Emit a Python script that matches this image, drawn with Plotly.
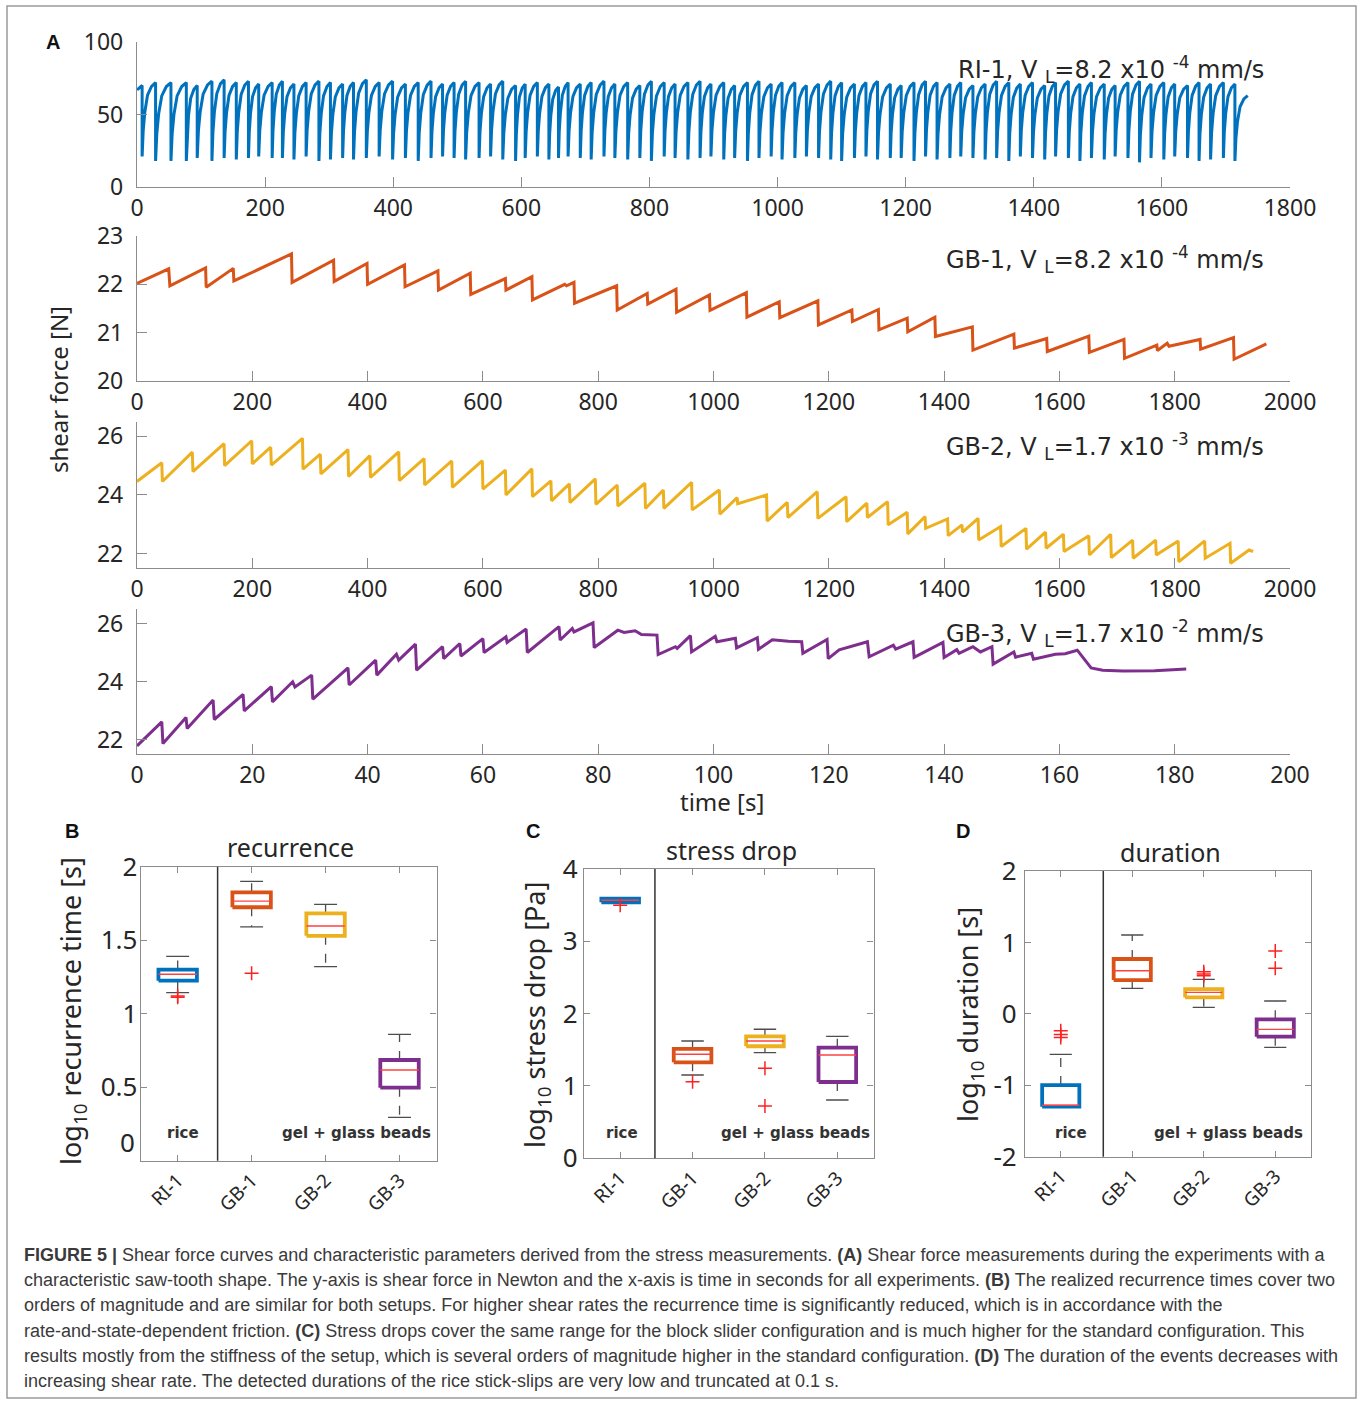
import plotly.graph_objects as go

# ---------------- data: panel A (shear force curves) ----------------
# RI-1: times of each slip (drop), force just before and just after it
RI1_START_T, RI1_START_F = 0, 67
RI1_DROP_T = [8, 29, 53, 77, 94, 117, 136, 155, 174, 190, 211, 227, 245, 264, 284, 302, 321, 338,
              358, 378, 399, 419, 439, 459, 477, 495, 513, 534, 552, 571, 591, 606, 625, 643, 658, 673,
              692, 709, 729, 746, 766, 785, 803, 823, 840, 860, 879, 896, 916, 933, 953, 971, 990, 1007,
              1027, 1045, 1064, 1083, 1100, 1120, 1138, 1156, 1176, 1193, 1213, 1231, 1249, 1269, 1286,
              1305, 1324, 1342, 1361, 1379, 1398, 1417, 1434, 1454, 1472, 1490, 1510, 1527, 1547, 1565,
              1583, 1603, 1620, 1640, 1658, 1676, 1696, 1714]
RI1_PEAK = [70, 72, 72, 72, 70, 73, 74, 72, 73, 71, 72, 73, 71, 72, 73, 72, 71, 72, 74, 72, 73, 71, 72, 73,
            71, 72, 73, 72, 71, 73, 70, 71, 72, 71, 69, 72,
            71, 72, 73, 71, 72, 70, 73, 72, 71, 72, 73, 71, 72, 70, 72, 73, 71, 72, 72, 70, 71, 73, 72, 71,
            72, 73, 71, 70, 72, 73, 72, 71, 72, 70, 71, 73, 72, 71, 72, 70, 72, 73, 71, 72, 71, 70, 72, 73,
            71, 72, 71, 70, 72, 71, 72, 71]
RI1_TROUGH = [21, 18, 18, 18, 20, 18, 20, 19, 20, 21, 20, 20, 19, 21, 18, 19, 20, 19, 20, 21, 19, 20, 18, 20,
              21, 20, 19, 20, 21, 19, 18, 20, 21, 19, 20, 21,
              20, 19, 21, 20, 19, 20, 18, 21, 20, 19, 20, 21, 19, 20, 18, 20, 21, 19, 20, 21, 20, 19, 18, 20,
              21, 19, 20, 20, 18, 21, 19, 20, 21, 20, 19, 20, 18, 21, 20, 19, 21, 20, 18, 20, 19, 21, 20, 17,
              20, 19, 21, 20, 18, 19, 20, 18]
RI1_END_T, RI1_END_F = 1734, 63
# shape of one loading cycle: (fraction of cycle time, fraction of force rise)
RI1_RISE_PROFILE = [(0.08, 0.35), (0.2, 0.6), (0.4, 0.83), (0.7, 0.95)]

GB1_T = [0, 55, 57, 119, 120, 167, 168, 230, 268, 269, 341, 342, 399, 400, 464, 465, 522, 523, 578, 579,
         639, 640, 685, 686, 742, 745, 758, 759, 832, 833, 885, 886, 935, 936, 993, 994, 1057, 1058, 1114, 1115,
         1181, 1182, 1240, 1241, 1286, 1287, 1336, 1337, 1384, 1385, 1449, 1450, 1521, 1522, 1578, 1579,
         1651, 1652, 1712, 1713, 1769, 1770, 1787, 1790, 1844, 1845, 1902, 1903, 1959]
GB1_F = [22.02, 22.32, 21.97, 22.34, 21.94, 22.33, 22.07, 22.42, 22.63, 22.04, 22.50, 22.06, 22.43, 22.00,
         22.40, 21.95, 22.28, 21.88, 22.23, 21.79, 22.12, 21.88, 22.16, 21.68, 22.00, 21.97, 22.04, 21.61,
         21.97, 21.47, 21.81, 21.59, 21.90, 21.42, 21.78, 21.46, 21.83, 21.32, 21.64, 21.31, 21.66, 21.16,
         21.47, 21.23, 21.48, 21.06, 21.30, 21.02, 21.32, 20.92, 21.12, 20.64, 20.97, 20.68, 20.88, 20.61,
         20.93, 20.59, 20.86, 20.47, 20.74, 20.63, 20.78, 20.72, 20.86, 20.66, 20.90, 20.45, 20.77]

GB2_T = [0, 43, 44, 96, 97, 151, 152, 199, 200, 232, 233, 287, 288, 318, 319, 366, 367, 404, 405, 454,
         455, 498, 499, 546, 547, 599, 600, 639, 640, 685, 686, 718, 719, 750, 751, 795, 796, 833, 834, 881,
         882, 913, 914, 962, 963, 1010, 1011, 1041, 1042, 1092, 1093, 1128, 1129, 1180, 1181, 1230, 1231,
         1266, 1267, 1302, 1303, 1336, 1337, 1367, 1368, 1406, 1407, 1431, 1432, 1459, 1460, 1498, 1499,
         1542, 1543, 1576, 1577, 1607, 1608, 1651, 1652, 1689, 1690, 1727, 1728, 1767, 1768, 1806, 1807,
         1852, 1853, 1896, 1897, 1929, 1936]
GB2_F = [24.46, 25.10, 24.46, 25.46, 24.80, 25.75, 25.00, 25.85, 25.06, 25.63, 25.02, 25.93, 24.88, 25.39,
         24.72, 25.55, 24.63, 25.34, 24.60, 25.47, 24.49, 25.24, 24.34, 25.16, 24.26, 25.17, 24.20, 24.85,
         24.00, 24.89, 23.94, 24.48, 23.80, 24.38, 23.74, 24.55, 23.68, 24.34, 23.62, 24.40, 23.54, 24.17,
         23.54, 24.43, 23.49, 24.17, 23.34, 23.91, 23.70, 24.00, 23.11, 23.75, 23.23, 24.11, 23.20, 23.94,
         23.09, 23.72, 23.23, 23.77, 22.98, 23.41, 22.67, 23.26, 22.86, 23.18, 22.61, 22.98, 22.73, 23.20,
         22.46, 22.92, 22.24, 22.86, 22.15, 22.73, 22.18, 22.66, 22.07, 22.61, 21.95, 22.66, 21.86, 22.46,
         21.84, 22.46, 21.95, 22.43, 21.72, 22.43, 21.84, 22.35, 21.67, 22.12, 22.07]

GB3_T = [0, 4.3, 4.5, 8.5, 8.7, 13.2, 13.4, 18.4, 18.6, 23.3, 23.5, 27.0, 27.4, 30.3, 30.5, 36.6, 36.8,
         41.4, 41.6, 45.0, 45.4, 48.3, 48.5, 53.0, 53.2, 56.0, 56.2, 60.0, 60.2, 64.0, 64.2, 67.5, 67.7,
         73.2, 73.4, 75.5, 75.8, 79.1, 79.3, 83.4, 84.5, 86.4, 87.5, 90.2, 90.4, 93.4, 93.7, 96.0, 96.2,
         100.3, 100.6, 103.8, 104.0, 107.6, 107.8, 110.2, 113.0, 115.3, 115.5, 119.7, 119.9, 121.8, 126.7,
         127.0, 131.2, 131.6, 134.6, 134.8, 139.8, 140.0, 142.2, 142.6, 145.0, 146.3, 148.3, 148.5, 152.1,
         152.4, 155.2, 155.5, 159.3, 161.0, 163.1, 164.0, 165.5, 167.5, 171.0, 176.5, 182.0]
GB3_F = [21.79, 22.62, 21.87, 22.77, 22.39, 23.37, 22.70, 23.57, 23.00, 23.83, 23.31, 24.00, 23.82, 24.23,
         23.40, 24.48, 23.89, 24.75, 24.23, 24.95, 24.75, 25.30, 24.40, 25.21, 24.80, 25.32, 24.89, 25.49,
         25.01, 25.55, 25.36, 25.82, 25.01, 25.90, 25.44, 25.84, 25.72, 26.03, 25.18, 25.78, 25.70, 25.76,
         25.63, 25.61, 24.94, 25.21, 25.15, 25.59, 25.03, 25.57, 25.38, 25.50, 25.17, 25.52, 25.12, 25.45,
         25.40, 25.38, 24.98, 25.46, 24.80, 25.10, 25.38, 24.86, 25.26, 25.13, 25.38, 24.84, 25.36, 24.84,
         25.11, 24.98, 25.21, 25.03, 25.21, 24.61, 25.03, 24.85, 24.98, 24.78, 24.95, 24.97, 25.09, 24.85,
         24.48, 24.40, 24.37, 24.38, 24.44]

A_LABELS = ["RI-1, V <sub>L</sub>=8.2 x10 <sup>-4</sup> mm/s",
            "GB-1, V <sub>L</sub>=8.2 x10 <sup>-4</sup> mm/s",
            "GB-2, V <sub>L</sub>=1.7 x10 <sup>-3</sup> mm/s",
            "GB-3, V <sub>L</sub>=1.7 x10 <sup>-2</sup> mm/s"]

# ---------------- data: panels B-D (box plots) ----------------
CATS = ["RI-1", "GB-1", "GB-2", "GB-3"]
CAT_POS = [1, 2, 3, 4]

REC_LO = [1.143, 1.59, 1.32, 0.295]
REC_Q1 = [1.225, 1.724, 1.53, 0.497]
REC_MED = [1.268, 1.766, 1.597, 0.617]
REC_Q3 = [1.30, 1.826, 1.683, 0.685]
REC_HI = [1.39, 1.90, 1.744, 0.86]
REC_OUT_X = [1, 1, 2]
REC_OUT_Y = [1.112, 1.120, 1.275]

SD_LO = [3.525, 1.152, 1.46, 0.806]
SD_Q1 = [3.54, 1.327, 1.549, 1.055]
SD_MED = [3.568, 1.438, 1.622, 1.429]
SD_Q3 = [3.59, 1.512, 1.687, 1.53]
SD_HI = [3.60, 1.622, 1.784, 1.687]
SD_OUT_X = [1, 2, 3, 3]
SD_OUT_Y = [3.50, 1.06, 1.245, 0.723]

DUR_LO = [-1.30, 0.357, 0.09, -0.47]
DUR_Q1 = [-1.30, 0.473, 0.23, -0.32]
DUR_MED = [-1.28, 0.604, 0.30, -0.217]
DUR_Q3 = [-0.997, 0.768, 0.347, -0.077]
DUR_HI = [-0.567, 1.104, 0.483, 0.18]
DUR_OUT_X = [1, 1, 1, 3, 3, 3, 4, 4]
DUR_OUT_Y = [-0.237, -0.29, -0.33, 0.59, 0.557, 0.534, 0.88, 0.637]

CAPTION = [
    "<b>FIGURE 5 |</b> Shear force curves and characteristic parameters derived from the stress measurements. <b>(A)</b> Shear force measurements during the experiments with a",
    "characteristic saw-tooth shape. The y-axis is shear force in Newton and the x-axis is time in seconds for all experiments. <b>(B)</b> The realized recurrence times cover two",
    "orders of magnitude and are similar for both setups. For higher shear rates the recurrence time is significantly reduced, which is in accordance with the",
    "rate-and-state-dependent friction. <b>(C)</b> Stress drops cover the same range for the block slider configuration and is much higher for the standard configuration. This",
    "results mostly from the stiffness of the setup, which is several orders of magnitude higher in the standard configuration. <b>(D)</b> The duration of the events decreases with",
    "increasing shear rate. The detected durations of the rice stick-slips are very low and truncated at 0.1 s.",
]

# ---------------- styling ----------------
COLORS = ["#0072BD", "#D95319", "#EDB120", "#7E2F8E"]
W, H = 1358, 1401
FONT = "Noto Sans"
AX_COL = "#8c8c8c"
TXT = "#262626"


def xd(a, b):
    return [a / W, b / W]


def yd(top, bot):
    return [1 - bot / H, 1 - top / H]


def X(p):
    return p / W


def Y(p):
    return 1 - p / H


fig = go.Figure()

# ---- RI-1 curve ----
xs, ys = [RI1_START_T], [RI1_START_F]
prev = None
for t, pk, tr in zip(RI1_DROP_T + [RI1_END_T], RI1_PEAK + [RI1_END_F], RI1_TROUGH + [None]):
    if prev is not None:
        pt, pf = prev
        for fr, fa in RI1_RISE_PROFILE:
            xs.append(pt + fr * (t - pt))
            ys.append(pf + fa * (pk - pf))
    xs.append(t)
    ys.append(pk)
    if tr is not None:
        xs.append(t)
        ys.append(tr)
        prev = (t, tr)
fig.add_trace(go.Scatter(x=xs, y=ys, mode="lines", line=dict(color=COLORS[0], width=3),
                         xaxis="x", yaxis="y", showlegend=False))
fig.add_trace(go.Scatter(x=GB1_T, y=GB1_F, mode="lines", line=dict(color=COLORS[1], width=3),
                         xaxis="x2", yaxis="y2", showlegend=False))
fig.add_trace(go.Scatter(x=GB2_T, y=GB2_F, mode="lines", line=dict(color=COLORS[2], width=3),
                         xaxis="x3", yaxis="y3", showlegend=False))
fig.add_trace(go.Scatter(x=GB3_T, y=GB3_F, mode="lines", line=dict(color=COLORS[3], width=3),
                         xaxis="x4", yaxis="y4", showlegend=False))

axA = dict(showgrid=False, zeroline=False, showline=True, linecolor=AX_COL, linewidth=1.3,
           ticks="inside", ticklen=10, tickcolor=AX_COL, tickwidth=1.2, automargin=False,
           tickfont=dict(family=FONT, size=23, color=TXT))
A_X = [(137, 1290)] * 4
A_Y = [(42, 187), (236, 381), (421.7, 568.2), (609.3, 754.3)]
A_XR = [[0, 1800], [0, 2000], [0, 2000], [0, 200]]
A_DT = [200, 200, 200, 20]
A_YR = [[0, 100], [20, 23], [21.5, 26.5], [21.5, 26.5]]
A_YT = [[0, 50, 100], [20, 21, 22, 23], [22, 24, 26], [22, 24, 26]]
layout_axes = {}
for i in range(4):
    sfx = "" if i == 0 else str(i + 1)
    layout_axes["xaxis" + sfx] = dict(axA, domain=xd(*A_X[i]), range=A_XR[i], dtick=A_DT[i],
                                      anchor="y" + sfx, ticklabelstandoff=0)
    layout_axes["yaxis" + sfx] = dict(axA, domain=yd(*A_Y[i]), range=A_YR[i], tickvals=A_YT[i],
                                      anchor="x" + sfx, ticklabelstandoff=8)

# ---- box panels ----
BOX_W, CAP_W = 0.26, 0.155
panels = [
    (5, (140.7, 436.5), (866.7, 1160.7), [0, 2], [0.5, 1, 1.5, 2], 1.54, -3,
     (REC_LO, REC_Q1, REC_MED, REC_Q3, REC_HI, REC_OUT_X, REC_OUT_Y)),
    (6, (584, 873.5), (869, 1158.3), [0, 4], [0, 1, 2, 3, 4], 1.48, 0,
     (SD_LO, SD_Q1, SD_MED, SD_Q3, SD_HI, SD_OUT_X, SD_OUT_Y)),
    (7, (1025, 1311), (871, 1156.7), [-2, 2], [-2, -1, 0, 1, 2], 1.595, 2,
     (DUR_LO, DUR_Q1, DUR_MED, DUR_Q3, DUR_HI, DUR_OUT_X, DUR_OUT_Y)),
]
shapes = []
for n, xdom, ydom, yr, ytv, divx, stand, (lo, q1, med, q3, hi, ox, oy) in panels:
    xa, ya = "x%d" % n, "y%d" % n
    for i, c in enumerate(CAT_POS):
        # whiskers
        for a, b in ((q3[i], hi[i]), (q1[i], lo[i])):
            fig.add_trace(go.Scatter(x=[c, c], y=[a, b], mode="lines",
                                     line=dict(color="#4d4d4d", width=1.3, dash="dash"),
                                     xaxis=xa, yaxis=ya, showlegend=False, hoverinfo="skip"))
        for v in (hi[i], lo[i]):
            fig.add_trace(go.Scatter(x=[c - CAP_W, c + CAP_W], y=[v, v], mode="lines",
                                     line=dict(color="#4d4d4d", width=1.3),
                                     xaxis=xa, yaxis=ya, showlegend=False, hoverinfo="skip"))
        # box
        fig.add_trace(go.Scatter(x=[c - BOX_W, c + BOX_W, c + BOX_W, c - BOX_W, c - BOX_W],
                                 y=[q1[i], q1[i], q3[i], q3[i], q1[i]], mode="lines",
                                 line=dict(color=COLORS[i], width=3.8),
                                 xaxis=xa, yaxis=ya, showlegend=False))
        # median
        fig.add_trace(go.Scatter(x=[c - BOX_W, c + BOX_W], y=[med[i], med[i]], mode="lines",
                                 line=dict(color="#ff4040", width=1.4),
                                 xaxis=xa, yaxis=ya, showlegend=False))
    fig.add_trace(go.Scatter(x=ox, y=oy, mode="markers",
                             marker=dict(symbol="cross-thin", size=10, line=dict(color="#ff2020", width=1.5)),
                             xaxis=xa, yaxis=ya, showlegend=False))
    axB = dict(showgrid=False, zeroline=False, showline=True, linecolor=AX_COL, linewidth=1.3,
               mirror="ticks", ticks="inside", ticklen=6, tickcolor=AX_COL, tickwidth=1.2,
               automargin=False)
    layout_axes["xaxis%d" % n] = dict(axB, domain=xd(*xdom), range=[0.5, 4.5], tickvals=CAT_POS,
                                      ticktext=CATS, tickangle=-45, anchor=ya,
                                      tickfont=dict(family=FONT, size=19, color=TXT))
    layout_axes["yaxis%d" % n] = dict(axB, domain=yd(*ydom), range=yr, tickvals=ytv,
                                      ticktext=[("%g" % v) for v in ytv], anchor=xa,
                                      ticklabelstandoff=stand,
                                      tickfont=dict(family=FONT, size=26, color=TXT))
    shapes.append(dict(type="line", xref=xa, yref=ya + " domain", x0=divx, x1=divx, y0=0, y1=1,
                       line=dict(color="#333333", width=1.5)))

# frame around the whole figure
shapes.append(dict(type="rect", xref="paper", yref="paper", x0=X(7), x1=X(1356), y0=Y(1398), y1=Y(6),
                   line=dict(color="#9a9a9a", width=1.5)))

ann = []


def text(x, y, s, size, bold=False, xanchor="center", angle=0, family=FONT, color=TXT):
    ann.append(dict(x=X(x), y=Y(y), xref="paper", yref="paper", text=("<b>%s</b>" % s) if bold else s,
                    showarrow=False, xanchor=xanchor, yanchor="middle", textangle=angle,
                    font=dict(family=family, size=size, color=color)))


for lab, yy in zip(A_LABELS, [69, 259, 446, 633]):
    text(1266, yy, lab, 24, xanchor="right", family="DejaVu Sans")
text(53, 42, "A", 20, bold=True, family="Liberation Sans", color="#111")
text(58, 390, "shear force [N]", 24, angle=-90)
text(722, 801, "time [s]", 24)

for lab, x in (("B", 72), ("C", 533), ("D", 963)):
    text(x, 831, lab, 20, bold=True, family="Liberation Sans", color="#111")
text(290, 847, "recurrence", 25)
text(731, 850, "stress drop", 25)
text(1170, 852, "duration", 25)
text(72, 1011, "log<sub>10</sub> recurrence time [s]", 27, angle=-90)
text(537, 1015, "log<sub>10</sub> stress drop [Pa]", 27, angle=-90)
text(970, 1015, "log<sub>10</sub> duration [s]", 27, angle=-90)
text(137, 1142, "0", 26, xanchor="right")
for xr, xg in ((183, 356), (622, 795), (1071, 1228)):
    text(xr, 1133, "rice", 15, bold=True, family="DejaVu Sans", color="#333")
    text(xg, 1133, "gel + glass beads", 15, bold=True, family="DejaVu Sans", color="#333")

for k, line in enumerate(CAPTION):
    text(22, 1255 + 25.2 * k, line, 18, xanchor="left", family="Liberation Sans", color="#3a3a3a")

fig.update_layout(width=W, height=H, margin=dict(l=0, r=0, t=0, b=0, autoexpand=False),
                  paper_bgcolor="white", plot_bgcolor="white",
                  showlegend=False, shapes=shapes, annotations=ann, **layout_axes)
fig.write_html("out.html", config={"responsive": False, "displayModeBar": False},
               post_script="document.body.style.margin='0';document.body.style.padding='0';"
                           "document.documentElement.style.overflow='hidden';")
